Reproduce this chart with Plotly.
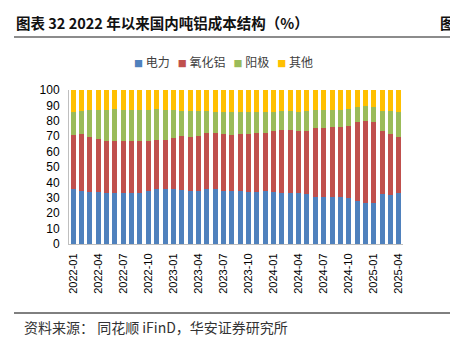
import plotly.graph_objects as go

# Monthly categories 2022-01 .. 2025-04
months = [f"{y}-{m:02d}" for y in (2022, 2023, 2024, 2025) for m in range(1, 13)][:40]

electricity = [35.7, 34.2, 33.7, 33.9, 33.3, 33.3, 33.3, 32.9, 33.1, 34.6,
               35.9, 35.9, 35.7, 35.3, 34.6, 34.6, 35.7, 35.7, 34.6, 34.1,
               34.1, 34.0, 34.0, 34.2, 33.7, 32.9, 32.9, 32.9, 32.7, 30.7,
               30.7, 30.7, 30.7, 29.8, 27.9, 26.6, 26.8, 32.7, 32.0, 33.3]
alumina = [35.3, 37.2, 36.0, 34.3, 33.6, 33.3, 33.6, 33.7, 33.8, 32.0,
           31.4, 31.8, 32.9, 34.6, 34.7, 35.5, 36.1, 36.1, 36.6, 37.0,
           37.4, 37.4, 37.8, 38.1, 39.4, 40.9, 40.9, 40.5, 40.9, 44.4,
           44.8, 45.0, 45.0, 46.8, 51.4, 53.3, 52.2, 40.9, 39.6, 36.4]
anode = [14.7, 15.0, 17.1, 19.0, 20.3, 20.8, 20.3, 20.6, 20.1, 20.6,
         20.1, 19.5, 18.6, 16.7, 17.3, 16.3, 14.3, 14.1, 14.3, 14.3,
         14.0, 14.1, 13.9, 13.2, 12.8, 12.3, 12.3, 12.5, 12.5, 11.7,
         11.3, 11.1, 11.1, 10.8, 9.4, 9.5, 10.2, 12.8, 14.8, 16.2]
other = [14.3, 13.6, 13.2, 12.8, 12.8, 12.6, 12.8, 12.8, 13.0, 12.8,
         12.6, 12.8, 12.8, 13.4, 13.4, 13.6, 13.9, 14.1, 14.5, 14.6,
         14.5, 14.5, 14.3, 14.5, 14.1, 13.9, 13.9, 14.1, 13.9, 13.2,
         13.2, 13.2, 13.2, 12.6, 11.3, 10.6, 10.8, 13.6, 13.6, 14.1]

series_names = ["电力", "氧化铝", "阳极", "其他"]
series_colors = ["#4F81BD", "#C0504D", "#9BBB59", "#FFC000"]
tick_labels = months[::3]

W, H = 450, 337
L, R, T, B = 69, 47, 90, 93
pw, ph = W - L - R, H - T - B


def px(x):
    return (x - L) / pw


def py(y):
    return (H - B - y) / ph


fig = go.Figure()
for name, vals, col in zip(series_names, [electricity, alumina, anode, other], series_colors):
    fig.add_bar(x=months, y=vals, name=name, marker=dict(color=col, line=dict(width=0)))

cjk = "Noto Sans CJK SC"

# compact legend row: small coloured square + series name
legend_html = "&nbsp;&nbsp;&nbsp;".join(
    f'<span style="color:{c};font-size:9px">■</span> {n}' for n, c in zip(series_names, series_colors)
)

fig.update_layout(
    width=W, height=H,
    margin=dict(l=L, r=R, t=T, b=B, pad=0),
    barmode="stack", bargap=0.4,
    plot_bgcolor="white", paper_bgcolor="white",
    font=dict(family="Arial, Liberation Sans, " + cjk, size=11, color="#000"),
    showlegend=False,
    xaxis=dict(type="category", tickmode="array", tickvals=tick_labels, ticktext=tick_labels,
               tickangle=-90, showline=True, linecolor="#BFBFBF", linewidth=1,
               ticks="", showgrid=False, tickfont=dict(size=11, family="Arial, Liberation Sans"),
               ticklabelstandoff=4),
    yaxis=dict(range=[0, 100], dtick=10, showline=True, linecolor="#BFBFBF", linewidth=1,
               ticks="", showgrid=False, tickfont=dict(size=12, family="Arial, Liberation Sans"),
               ticklabelstandoff=6),
    shapes=[
        dict(type="line", xref="paper", yref="paper", x0=px(14), x1=px(450), y0=py(37), y1=py(37),
             line=dict(color="#8C8C8C", width=2)),
        dict(type="line", xref="paper", yref="paper", x0=px(14), x1=px(450), y0=py(313), y1=py(313),
             line=dict(color="#000", width=1)),
    ],
    annotations=[
        dict(text="<b>图表 32 2022 年以来国内吨铝成本结构（%）</b>", xref="paper", yref="paper",
             x=px(14), y=py(22), xanchor="left", yanchor="middle", showarrow=False,
             font=dict(family=cjk, size=14.5, color="#111")),
        dict(text="<b>图</b>", xref="paper", yref="paper",
             x=px(438), y=py(22), xanchor="left", yanchor="middle", showarrow=False,
             font=dict(family=cjk, size=14.5, color="#111")),
        dict(text=legend_html, xref="paper", yref="paper",
             x=px(223), y=py(61), xanchor="center", yanchor="middle", showarrow=False,
             font=dict(family=cjk, size=12, color="#404040")),
        dict(text="资料来源： 同花顺 iFinD，华安证券研究所", xref="paper", yref="paper",
             x=px(22), y=py(327), xanchor="left", yanchor="middle", showarrow=False,
             font=dict(family=cjk, size=14, color="#333")),
    ],
)

fig.write_html("out.html")
